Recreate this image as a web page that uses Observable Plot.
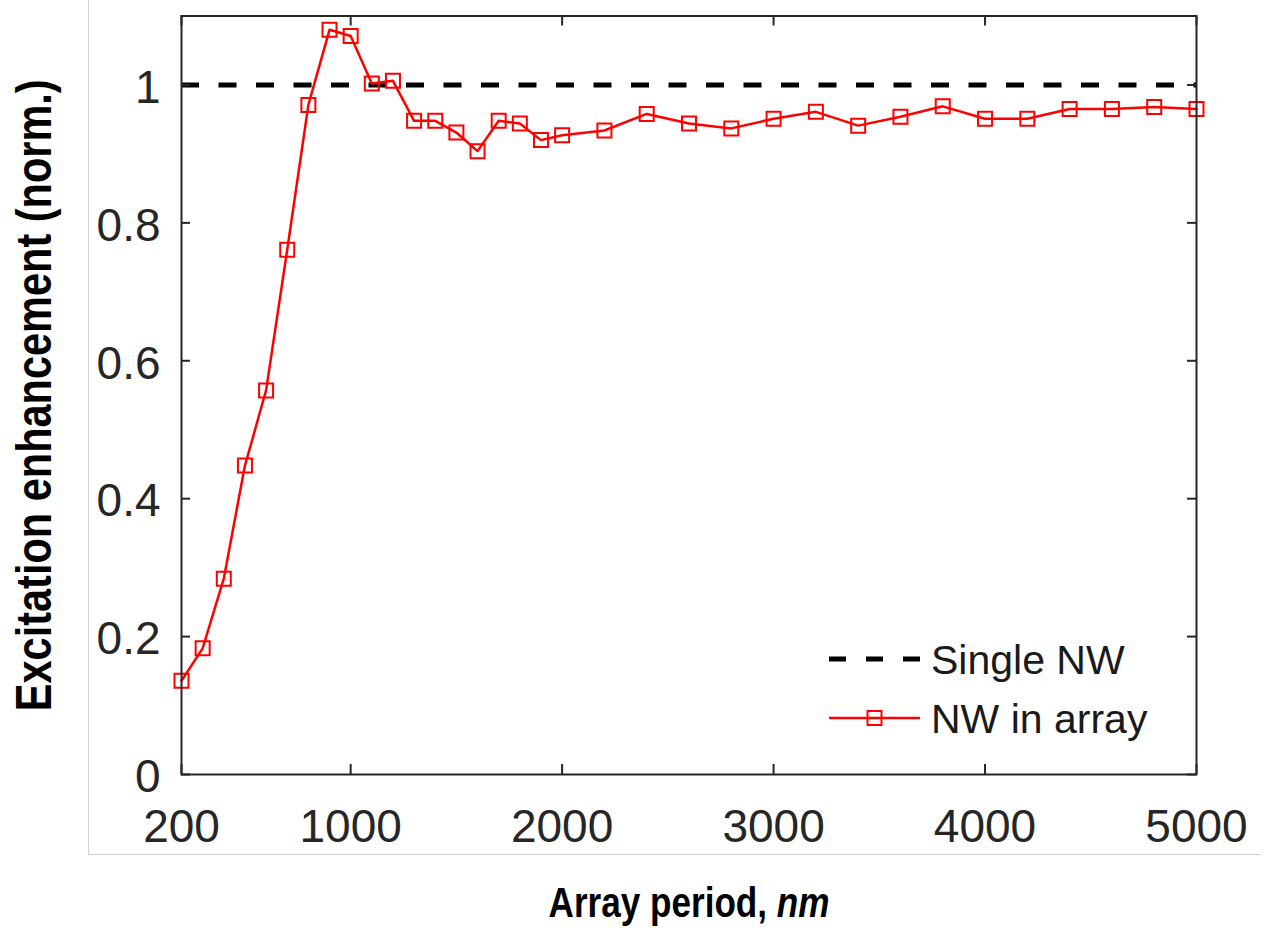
<!DOCTYPE html>
<html>
<head>
<meta charset="utf-8">
<script src="https://cdn.jsdelivr.net/npm/d3@7"></script>
<script src="https://cdn.jsdelivr.net/npm/@observablehq/plot@0.6"></script>
<style>
  body { margin: 0; background: #fff; }
  #wrap { position: relative; width: 1266px; height: 937px; background: #fff; }
  #border { position: absolute; left: 88px; top: 0; width: 1173px; height: 855px;
            border-left: 1px solid #d2d2d2; border-bottom: 1px solid #d2d2d2;
            box-sizing: border-box; pointer-events: none; z-index: 2; }
  #chart { position: absolute; left: 0; top: 0; }
</style>
</head>
<body>
<div id="wrap"><div id="chart"></div><div id="border"></div></div>
<script>
// ---- data ----
const periods = [200, 300, 400, 500, 600, 700, 800, 900, 1000, 1100, 1200, 1300, 1400, 1500, 1600, 1700, 1800, 1900, 2000,
                 2200, 2400, 2600, 2800, 3000, 3200, 3400, 3600, 3800, 4000, 4200, 4400, 4600, 4800, 5000];
const nwInArray = [0.136, 0.183, 0.284, 0.448, 0.557, 0.761, 0.971, 1.080, 1.071, 1.002, 1.006, 0.948, 0.948, 0.931, 0.904, 0.948, 0.944, 0.920, 0.927,
                   0.934, 0.958, 0.944, 0.937, 0.951, 0.961, 0.941, 0.954, 0.969, 0.951, 0.951, 0.965, 0.965, 0.968, 0.965];
const singleNW = [1];
const xTicks = [200, 1000, 2000, 3000, 4000, 5000];
const yTicks = [0, 0.2, 0.4, 0.6, 0.8, 1];
const legendLabels = ["Single NW", "NW in array"];
const yTitle = "Excitation enhancement (norm.)";
const xTitleParts = ["Array period, ", "nm"];

// ---- layout / style ----
const W = 1266, H = 937;
const mL = 181, mR = 70, mT = 15.5, mB = 163;
const innerW = W - mL - mR, innerH = H - mT - mB;
const axisColor = "#262626";
const sans = "'Liberation Sans', Arial, Helvetica, sans-serif";
const red = "#ff0000";
const dash = "18,19.5";

const data = periods.map((p, i) => ({period: p, value: nwInArray[i]}));

const plot = Plot.plot({
  width: W, height: H,
  marginLeft: mL, marginRight: mR, marginTop: mT, marginBottom: mB,
  style: {background: "transparent", fontFamily: sans, color: axisColor, overflow: "visible"},
  x: {domain: [200, 5000]},
  y: {domain: [0, 1.1]},
  marks: [
    Plot.ruleY(singleNW, {y: d => d, stroke: "#000", strokeWidth: 5, strokeDasharray: dash}),
    Plot.line(data, {x: "period", y: "value", stroke: red, strokeWidth: 2.5}),
    Plot.dot(data, {x: "period", y: "value", symbol: "square", r: 7.9, stroke: red, strokeWidth: 2, fill: "none"}),
    Plot.frame({stroke: axisColor, strokeWidth: 2}),
    Plot.tickX(xTicks, {x: d => d, insetTop: innerH - 10, stroke: axisColor, strokeWidth: 2}),
    Plot.tickX(xTicks, {x: d => d, insetBottom: innerH - 10, stroke: axisColor, strokeWidth: 2}),
    Plot.tickY(yTicks, {y: d => d, insetRight: innerW - 9, stroke: axisColor, strokeWidth: 2}),
    Plot.tickY(yTicks, {y: d => d, insetLeft: innerW - 9, stroke: axisColor, strokeWidth: 2}),
    Plot.axisX(xTicks, {tickSize: 0, tickPadding: 35, fontSize: 46, fill: axisColor, tickFormat: d => String(d), label: null}),
    Plot.axisY(yTicks, {tickSize: 0, tickPadding: 21, fontSize: 46, dy: 3, fill: axisColor, tickFormat: d => String(d), label: null}),
    Plot.text([yTitle], {text: d => d, frameAnchor: "left", textAnchor: "middle", rotate: -90, dx: -147, lineAnchor: "middle",
      fontFamily: sans, fontWeight: "bold", fontSize: 50, fill: "#000"}),
    Plot.text([xTitleParts.join("")], {text: d => d, frameAnchor: "bottom", textAnchor: "middle", dy: 142, lineAnchor: "bottom",
      fontFamily: sans, fontWeight: "bold", fontSize: 43, fill: "#000"})
  ]
});

document.getElementById("chart").appendChild(plot);

const svg = d3.select(plot);

// condense a title horizontally (narrow bold look) to the reference length
function condense(sel, target) {
  const node = sel.node();
  if (!node) return;
  const w = node.getComputedTextLength();
  const s = w > 0 ? target / w : 1;
  const t = node.getAttribute("transform") || "";
  node.setAttribute("transform", `${t} scale(${s},1)`);
}

const yt = svg.selectAll("text").filter(function() { return this.textContent === yTitle; });
yt.attr("text-anchor", "middle");
condense(yt, 632);

const xt = svg.selectAll("text").filter(function() { return this.textContent === xTitleParts.join(""); });
xt.text(null).attr("text-anchor", "middle");
xt.append("tspan").text(xTitleParts[0]);
xt.append("tspan").attr("font-style", "italic").text(xTitleParts[1]);
condense(xt, 281);

// ---- legend (inside the axes, lower right) ----
const lg = svg.append("g").attr("font-family", sans).attr("font-size", 41).attr("fill", "#1a1a1a")
  .attr("text-anchor", "start");
const lx0 = 829, lx1 = 920, ly = [659, 718];
lg.append("line").attr("x1", lx0).attr("x2", lx1).attr("y1", ly[0]).attr("y2", ly[0])
  .attr("stroke", "#000").attr("stroke-width", 5).attr("stroke-dasharray", "17,20");
lg.append("line").attr("x1", lx0).attr("x2", lx1).attr("y1", ly[1]).attr("y2", ly[1])
  .attr("stroke", red).attr("stroke-width", 2.5);
lg.append("rect").attr("x", (lx0 + lx1) / 2 - 7).attr("y", ly[1] - 7).attr("width", 14).attr("height", 14)
  .attr("fill", "none").attr("stroke", red).attr("stroke-width", 2);
legendLabels.forEach((t, i) => {
  lg.append("text").attr("x", 931).attr("y", ly[i] + 15).attr("text-anchor", "start").text(t);
});
</script>
</body>
</html>
